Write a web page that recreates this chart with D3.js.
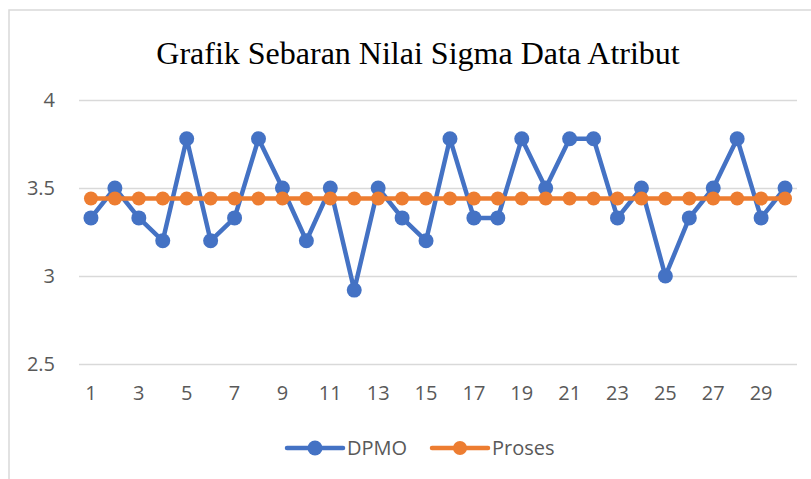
<!DOCTYPE html>
<html>
<head>
<meta charset="utf-8">
<script src="https://cdn.jsdelivr.net/npm/d3@7"></script>
<style>
  body { margin: 0; background: #fff; }
  text { font-family: "Open Sans", sans-serif; fill: #595959; }
</style>
</head>
<body>
<svg id="mainsvg"></svg>
<script>
// data
let categories = d3.range(1, 31);
let dpmo = [3.33, 3.5, 3.33, 3.2, 3.78, 3.2, 3.33, 3.78, 3.5, 3.2,
            3.5, 2.92, 3.5, 3.33, 3.2, 3.78, 3.33, 3.33, 3.78, 3.5,
            3.78, 3.78, 3.33, 3.5, 3.0, 3.33, 3.5, 3.78, 3.33, 3.5];
let proses = categories.map(() => 3.44);
let yTicks = [2.5, 3, 3.5, 4];
let seriesNames = ["DPMO", "Proses"];
let colors = ["#4472C4", "#ED7D31"];

let svgWidth = 811, svgHeight = 479,
    plot = {left: 79, right: 797, top: 100, bottom: 364};

let mainsvg = d3.select("#mainsvg").attr("width", svgWidth).attr("height", svgHeight);

// chart frame
mainsvg.append("rect")
    .attr("x", 9).attr("y", 10)
    .attr("width", 900).attr("height", 600)
    .attr("fill", "none").attr("stroke", "#d9d9d9").attr("stroke-width", 1.5);

let scaleX = d3.scaleBand().domain(categories).range([plot.left, plot.right]);
let scaleY = d3.scaleLinear().domain([2.5, 4]).range([plot.bottom, plot.top]);

// title
mainsvg.append("text")
    .attr("x", 418).attr("y", 64)
    .attr("text-anchor", "middle")
    .style("font-family", "'Liberation Serif', 'Times New Roman', serif")
    .style("font-size", "32px").style("fill", "#000")
    .text("Grafik Sebaran Nilai Sigma Data Atribut");

// gridlines + y labels
let yAxis = mainsvg.append("g")
    .attr("transform", `translate(${plot.left},0)`)
    .call(d3.axisLeft(scaleY).tickValues(yTicks).tickSize(-(plot.right - plot.left)).tickPadding(24).tickFormat(d3.format("")));
yAxis.select(".domain").remove();
yAxis.selectAll("line").attr("stroke", "#d9d9d9").attr("stroke-width", 1.3);
yAxis.selectAll("text").style("font-size", "20px").style("fill", "#595959").style("font-family", "'Open Sans', sans-serif");

// x labels (every other category)
let xAxis = mainsvg.append("g")
    .attr("transform", `translate(0,${plot.bottom})`)
    .call(d3.axisBottom(scaleX).tickValues(categories.filter(d => d % 2 === 1)).tickSize(0).tickPadding(22));
xAxis.select(".domain").remove();
xAxis.selectAll("text").style("font-size", "20px").style("fill", "#595959").style("font-family", "'Open Sans', sans-serif");

let cx = d => scaleX(d) + scaleX.bandwidth() / 2;

function drawSeries(values, color, r) {
    let pts = values.map((v, i) => [cx(categories[i]), scaleY(v)]);
    mainsvg.append("path")
        .attr("d", d3.line()(pts))
        .attr("fill", "none").attr("stroke", color)
        .attr("stroke-width", 4.5).attr("stroke-linejoin", "round").attr("stroke-linecap", "round");
    mainsvg.append("g").selectAll("circle").data(pts).enter().append("circle")
        .attr("cx", d => d[0]).attr("cy", d => d[1]).attr("r", r)
        .attr("fill", color);
}
drawSeries(dpmo, colors[0], 7.5);
drawSeries(proses, colors[1], 7);

// legend
let legendY = 448;
let legendItems = [{x: 287}, {x: 432}];
legendItems.forEach((item, i) => {
    let g = mainsvg.append("g").attr("transform", `translate(${item.x},${legendY})`);
    g.append("line").attr("x1", 0).attr("x2", 56).attr("y1", 0).attr("y2", 0)
        .attr("stroke", colors[i]).attr("stroke-width", 4.5).attr("stroke-linecap", "round");
    g.append("circle").attr("cx", 28).attr("cy", 0).attr("r", i === 0 ? 7.5 : 7).attr("fill", colors[i]);
    g.append("text").attr("x", 60).attr("y", 0).attr("dy", "0.35em")
        .style("font-size", "20px").text(seriesNames[i]);
});
</script>
</body>
</html>
